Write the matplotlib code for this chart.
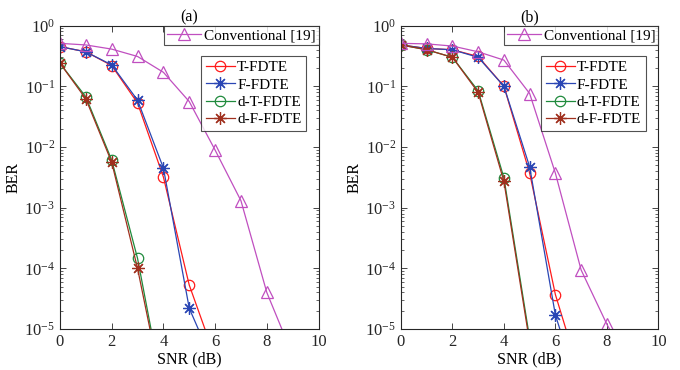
import matplotlib
matplotlib.use("Agg")
import matplotlib.pyplot as plt
from matplotlib.ticker import LogLocator, FixedLocator, NullFormatter

plt.rcParams['font.family'] = ['Liberation Serif', 'DejaVu Serif']
plt.rcParams['mathtext.fontset'] = 'stix'

snr_a = [0, 1, 2, 3, 4, 5, 6, 7, 8, 9]
conv_a = [0.51, 0.48, 0.41, 0.31, 0.17, 0.056, 0.0089, 0.0013, 4.0e-5, 3.7e-6]
snr_fd_a = [0, 1, 2, 3, 4, 5, 6]
t_fdte_a = [0.45, 0.37, 0.22, 0.053, 0.0032, 5.3e-5, 3.4e-6]
f_fdte_a = [0.45, 0.37, 0.225, 0.059, 0.0045, 2.2e-5, 2.3e-6]
snr_d_a = [0, 1, 2, 3, 4]
dt_fdte_a = [0.24, 0.067, 0.0061, 1.46e-4, 8.5e-7]
df_fdte_a = [0.24, 0.062, 0.0056, 1.0e-4, 8.3e-7]

snr_b = [0, 1, 2, 3, 4, 5, 6, 7, 8, 9]
conv_b = [0.51, 0.50, 0.46, 0.37, 0.27, 0.076, 0.0037, 9.4e-5, 1.2e-5, 2.0e-6]
snr_fd_b = [0, 1, 2, 3, 4, 5, 6, 7]
t_fdte_b = [0.48, 0.42, 0.40, 0.31, 0.10, 0.0037, 3.7e-5, 1.5e-6]
f_fdte_b = [0.48, 0.42, 0.40, 0.30, 0.10, 0.0047, 1.7e-5, 8.0e-7]
snr_d_b = [0, 1, 2, 3, 4, 5]
dt_fdte_b = [0.48, 0.40, 0.30, 0.084, 0.0031, 7.0e-6]
df_fdte_b = [0.48, 0.40, 0.30, 0.079, 0.0027, 6.0e-6]

titles = ['(a)', '(b)']
labels = ['T-FDTE', 'F-FDTE', 'd-T-FDTE', 'd-F-FDTE']
conv_label = 'Conventional [19]'
xticks = [0, 2, 4, 6, 8, 10]

c_red = '#ff1a1a'
c_blue = '#2a46b4'
c_green = '#1f8a3c'
c_brown = '#a0301e'
c_mag = '#c04fc0'

fig = plt.figure(figsize=(6.8, 3.7), dpi=100)
axes = [fig.add_axes([0.0882, 0.1108, 0.3802, 0.820]),
        fig.add_axes([0.5897, 0.1108, 0.3784, 0.820])]

datasets = [
    (snr_a, conv_a, snr_fd_a, t_fdte_a, f_fdte_a, snr_d_a, dt_fdte_a, df_fdte_a),
    (snr_b, conv_b, snr_fd_b, t_fdte_b, f_fdte_b, snr_d_b, dt_fdte_b, df_fdte_b),
]

star = (8, 2, 0)
lw = 0.9
for ax, title, d in zip(axes, titles, datasets):
    s, conv, sfd, tf, ff, sd, dtf, dff = d
    h1, = ax.semilogy(sfd, tf, color=c_red, marker='o', mfc='none', ms=7.5, lw=lw, mew=0.9)
    h2, = ax.semilogy(sfd, ff, color=c_blue, marker=star, ms=9, lw=lw, mew=0.9)
    h3, = ax.semilogy(sd, dtf, color=c_green, marker='o', mfc='none', ms=7.5, lw=lw, mew=0.9)
    h4, = ax.semilogy(sd, dff, color=c_brown, marker=star, ms=9, lw=lw, mew=0.9)
    h5, = ax.semilogy(s, conv, color=c_mag, marker='^', mfc='none', ms=9, lw=lw, mew=0.9)
    ax.set_xlim(0, 10)
    ax.set_ylim(1e-5, 1)
    ax.set_xticks(xticks)
    ax.yaxis.set_major_locator(FixedLocator([1e-5, 1e-4, 1e-3, 1e-2, 1e-1, 1]))
    ax.yaxis.set_minor_locator(LogLocator(base=10, subs=range(2, 10), numticks=20))
    ax.yaxis.set_minor_formatter(NullFormatter())
    ax.tick_params(which='both', direction='in', top=True, right=True, labelsize=12, colors='#262626')
    ax.tick_params(which='major', length=4, width=0.6)
    ax.tick_params(which='minor', length=2, width=0.5)
    for sp in ax.spines.values():
        sp.set_linewidth(0.8)
        sp.set_color('#262626')
    ax.set_xlabel('SNR (dB)', fontsize=11.5, labelpad=1)
    ax.set_ylabel('BER', fontsize=11.5, labelpad=2)
    ax.set_title(title, fontsize=11.5, pad=3)
    leg1 = ax.legend([h5], [conv_label], loc='upper right', bbox_to_anchor=(1.0, 1.0),
                     borderaxespad=0, fontsize=11, frameon=True, fancybox=False,
                     handlelength=2.2, handletextpad=0.2, borderpad=0.2)
    leg1.get_frame().set_edgecolor('#262626')
    leg1.get_frame().set_linewidth(0.8)
    ax.add_artist(leg1)
    leg2 = ax.legend([h1, h2, h3, h4], labels, loc='upper right', bbox_to_anchor=(0.952, 0.90),
                     borderaxespad=0, fontsize=11, frameon=True, fancybox=False,
                     handlelength=1.9, handletextpad=0.15, borderpad=0.3, labelspacing=0.24)
    leg2.get_frame().set_edgecolor('#262626')
    leg2.get_frame().set_linewidth(0.8)

fig.savefig('out.png', dpi=100)
